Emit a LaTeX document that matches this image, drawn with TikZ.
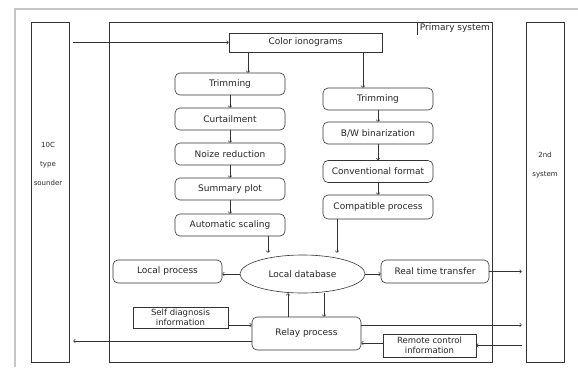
\documentclass[tikz,border=0pt]{standalone}
\usepackage{fontspec}
\setmainfont{DejaVu Sans}
\usepackage{tikz}
\usetikzlibrary{positioning,arrows.meta,shapes.geometric,calc}

\begin{document}
\begin{tikzpicture}[
          x=1pt, y=-1pt,
          line width=0.6pt, draw=black!80,
          txt/.style={font=\fontsize{9}{10}\selectfont, text=black!85},
          box/.style={txt, draw, minimum width=110pt, minimum height=22pt, inner sep=1pt},
          rbox/.style={box, rounded corners=5pt},
          frame/.style={draw, minimum width=38pt, minimum height=340pt, inner sep=0pt},
          sml/.style={font=\fontsize{7}{19}\selectfont, text=black!85, align=center},
          ar/.style={->, >=to}
      ]
        \useasboundingbox (0,0) rectangle (578,367);
        \draw[gray!45, line width=1.3pt] (15,367) -- (15,9) -- (578,9);
        % outer systems
        \node[frame] (sounder) at (50,192) {};
        \node[sml] at (48,164) {10C\\type\\sounder};
        \node[frame] (second) at (545,192) {};
        \node[sml] at (545,165) {2nd\\system};
        \node[frame, minimum width=383pt] (primary) at (300.5,192) {};
        \node[txt, anchor=north east, inner sep=2pt] (plabel) at (primary.north east) {Primary system};
        \draw (plabel.north west) -- (plabel.south west);
        % processing chains
        \node[box, minimum width=153pt, minimum height=19pt] (color) at (305.5,42.5) {Color ionograms};
        \node[rbox] (trimL) at (230,84) {Trimming};
        \node[rbox] (curt) at (230,119) {Curtailment};
        \node[rbox] (noize) at (230,154) {Noize reduction};
        \node[rbox] (summ) at (230,189) {Summary plot};
        \node[rbox] (auto) at (230,225) {Automatic scaling};
        \node[rbox] (trimR) at (378,99) {Trimming};
        \node[rbox] (bw) at (378,133) {B/W binarization};
        \node[rbox] (conv) at (378,171.5) {Conventional format};
        \node[rbox, minimum height=24pt] (compat) at (378,207) {Compatible process};
        \node[txt, draw, ellipse, minimum width=125pt, minimum height=38pt, inner sep=0pt] (db) at (302.5,274) {Local database};
        \node[rbox, minimum width=109pt, minimum height=23pt] (local) at (167.5,271.5) {Local process};
        \node[rbox, minimum width=108pt, minimum height=23pt] (rtt) at (435,271.5) {Real time transfer};
        \node[rbox, minimum width=109pt, minimum height=33pt] (relay) at (306.5,333.5) {Relay process};
        \node[box, minimum width=95pt, minimum height=21pt, align=center, font=\fontsize{8.5}{9.5}\selectfont] (selfd) at (180.5,317.5) {Self diagnosis\\information};
        \node[box, minimum width=93pt, minimum height=23pt, align=center, font=\fontsize{8.5}{9.5}\selectfont] (remote) at (429.5,345.5) {Remote control\\information};
        % connectors
        \draw[ar, shorten <=4pt] (sounder.east |- color.west) -- (color.west);
        \draw[ar] ([xshift=18pt]trimL.north |- color.south) -- ([xshift=18pt]trimL.north);
        \draw[ar] ([xshift=-15pt]trimR.north |- color.south) -- ([xshift=-15pt]trimR.north);
        \foreach \a/\b in {trimL/curt, curt/noize, noize/summ, summ/auto, trimR/bw, bw/conv, conv/compat}
          \draw[ar] (\a) -- (\b);
        \draw[ar, shorten >=2pt] ([xshift=38pt]auto.south) -- ([xshift=38pt]auto.south |- db.north);
        \draw[ar, shorten >=2pt] ([xshift=-41pt]compat.south) -- ([xshift=-41pt]compat.south |- db.north);
        \draw[ar] (db.west) -- (db.west -| local.east);
        \draw[ar] (db.east) -- (db.east -| rtt.west);
        \draw[ar, shorten >=4pt] (rtt.east) -- (rtt.east -| second.west);
        \draw[ar] ([xshift=-18.5pt]relay.north) -- ([xshift=-18.5pt]relay.north |- db.south);
        \draw[ar] ([xshift=21.5pt]db.south) -- ([xshift=21.5pt]db.south |- relay.north);
        \draw[ar] ([yshift=-7.5pt]selfd.east) -- ([yshift=-7.5pt]selfd.east -| relay.west);
        \draw[ar, shorten >=4pt] ([yshift=-7.5pt]relay.west) -- ([yshift=-7.5pt]relay.west -| sounder.east);
        \draw[ar, shorten >=4pt] ([yshift=8.5pt]relay.east) -- ([yshift=8.5pt]relay.east -| second.west);
        \draw[ar, shorten <=4pt] (remote.east -| second.west) -- (remote.east);
        \draw[ar] ([yshift=2.5pt]remote.west) -- ([yshift=2.5pt]remote.west -| relay.east);
      \end{tikzpicture}
\end{document}
